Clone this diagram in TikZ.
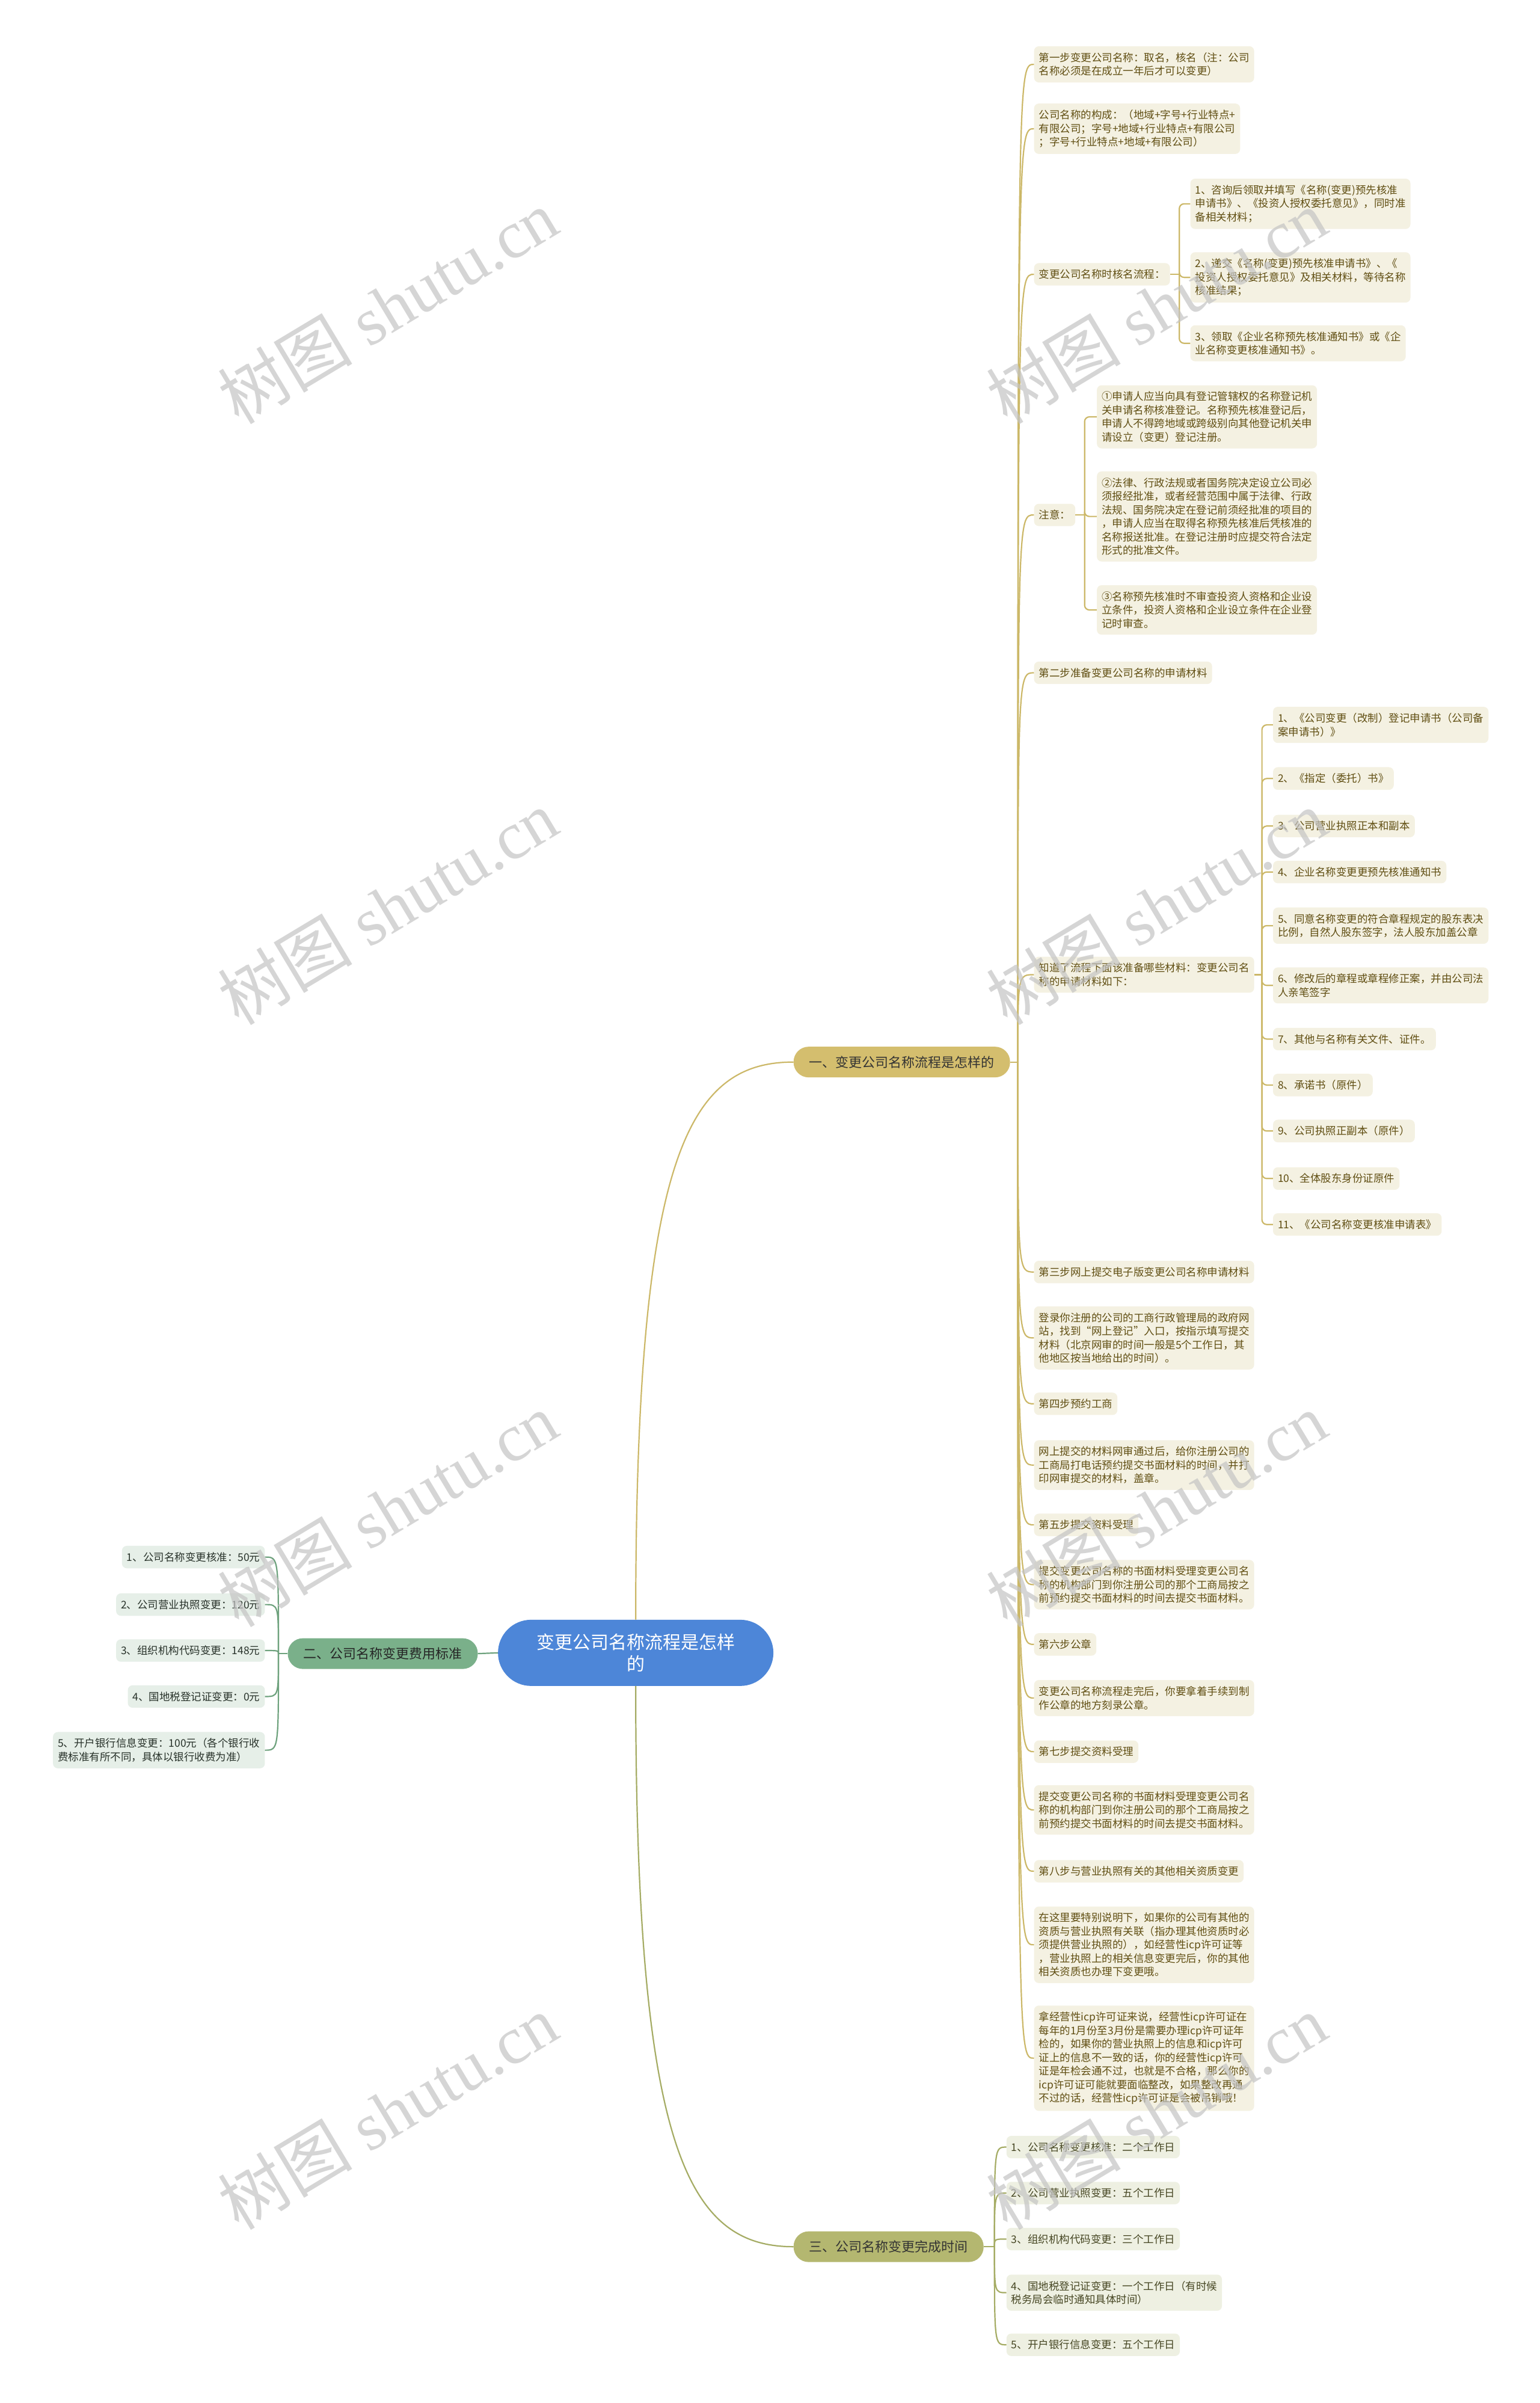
\documentclass[tikz,border=0pt]{standalone}
\usepackage{fontspec}
\setmainfont{Noto Sans CJK SC}
\newfontfamily\wmlatin{Liberation Serif}
\usetikzlibrary{calc}
\definecolor{rootc}{RGB}{77,134,216}
\definecolor{goldc}{RGB}{212,190,110}
\definecolor{goldline}{RGB}{204,184,104}
\definecolor{goldleaf}{RGB}{244,241,226}
\definecolor{goldtext}{RGB}{96,78,18}
\definecolor{greenc}{RGB}{122,176,138}
\definecolor{greenline}{RGB}{110,162,125}
\definecolor{greenleaf}{RGB}{230,239,232}
\definecolor{greentext}{RGB}{40,50,42}
\definecolor{olivec}{RGB}{180,183,112}
\definecolor{oliveline}{RGB}{165,172,100}
\definecolor{oliveleaf}{RGB}{238,240,226}
\definecolor{olivetext}{RGB}{70,70,35}
\definecolor{wmgray}{RGB}{196,196,196}
\tikzset{
  leafbox/.style={rounded corners=8pt, inner xsep=8pt, inner ysep=10.5pt, align=left,
    font=\fontsize{17.5}{22.5}\selectfont},
  aleaf/.style={leafbox, fill=goldleaf, text=goldtext, anchor=west},
  bleaf/.style={leafbox, fill=greenleaf, text=greentext, anchor=east},
  cleaf/.style={leafbox, fill=oliveleaf, text=olivetext, anchor=west},
  mainbox/.style={rounded corners=25pt, minimum height=51pt, inner xsep=26pt,
    font=\fontsize{22}{26}\selectfont},
  rootbox/.style={rounded corners=55pt, minimum width=458pt, minimum height=110pt,
    fill=rootc, text=white, align=center, font=\fontsize{30}{36}\selectfont},
  aline/.style={draw=goldline, line width=2.2pt},
  bline/.style={draw=greenline, line width=2.2pt},
  cline/.style={draw=oliveline, line width=2.2pt},
  wmark/.style={text=wmgray, opacity=0.7, rotate=31, font=\fontsize{112}{112}\selectfont}
}
\begin{document}
\begin{tikzpicture}[x=2.5473pt, y=-2.5478pt]
\useasboundingbox (0,0) rectangle (1005,1568);
\fill[white] (0,0) rectangle (1005,1568);

% root and main branches
\node[rootbox] (root) at (415,1078.5) {变更公司名称流程是怎样\\的};
\node[mainbox, fill=goldc, text=black!80, anchor=west] (A) at (518,693) {一、变更公司名称流程是怎样的};
\node[mainbox, fill=greenc, text=black!85, anchor=east] (B) at (312,1079) {二、公司名称变更费用标准};
\node[mainbox, fill=olivec, text=black!80, anchor=west] (C) at (518,1466) {三、公司名称变更完成时间};

\draw[aline] (root.north) .. controls ($(root.north)+(0,-300)$) and ($(A.west)+(-70,0)$) .. (A.west);
\draw[cline] (root.south) .. controls ($(root.south)+(0,300)$) and ($(C.west)+(-70,0)$) .. (C.west);
\draw[bline] (root.west) -- (B.east);

% branch A children
\node[aleaf] (a1) at (675,42) {第一步变更公司名称：取名，核名（注：公司\\名称必须是在成立一年后才可以变更）};
\node[aleaf] (a2) at (675,84) {公司名称的构成：（地域+字号+行业特点+\\有限公司；字号+地域+行业特点+有限公司\\；字号+行业特点+地域+有限公司）};
\node[aleaf] (a3) at (675,179) {变更公司名称时核名流程：};
\node[aleaf] (a4) at (675,336) {注意：};
\node[aleaf] (a5) at (675,439) {第二步准备变更公司名称的申请材料};
\node[aleaf] (a6) at (675,636) {知道了流程下面该准备哪些材料：变更公司名\\称的申请材料如下：};
\node[aleaf] (a7) at (675,830) {第三步网上提交电子版变更公司名称申请材料};
\node[aleaf] (a8) at (675,873) {登录你注册的公司的工商行政管理局的政府网\\站，找到“网上登记”入口，按指示填写提交\\材料（北京网审的时间一般是5个工作日，其\\他地区按当地给出的时间）。};
\node[aleaf] (a9) at (675,916) {第四步预约工商};
\node[aleaf] (a10) at (675,956) {网上提交的材料网审通过后，给你注册公司的\\工商局打电话预约提交书面材料的时间，并打\\印网审提交的材料，盖章。};
\node[aleaf] (a11) at (675,995) {第五步提交资料受理};
\node[aleaf] (a12) at (675,1034) {提交变更公司名称的书面材料受理变更公司名\\称的机构部门到你注册公司的那个工商局按之\\前预约提交书面材料的时间去提交书面材料。};
\node[aleaf] (a13) at (675,1073) {第六步公章};
\node[aleaf] (a14) at (675,1108) {变更公司名称流程走完后，你要拿着手续到制\\作公章的地方刻录公章。};
\node[aleaf] (a15) at (675,1143) {第七步提交资料受理};
\node[aleaf] (a16) at (675,1181) {提交变更公司名称的书面材料受理变更公司名\\称的机构部门到你注册公司的那个工商局按之\\前预约提交书面材料的时间去提交书面材料。};
\node[aleaf] (a17) at (675,1221) {第八步与营业执照有关的其他相关资质变更};
\node[aleaf] (a18) at (675,1269) {在这里要特别说明下，如果你的公司有其他的\\资质与营业执照有关联（指办理其他资质时必\\须提供营业执照的），如经营性icp许可证等\\，营业执照上的相关信息变更完后，你的其他\\相关资质也办理下变更哦。};
\node[aleaf] (a19) at (675,1343) {拿经营性icp许可证来说，经营性icp许可证在\\每年的1月份至3月份是需要办理icp许可证年\\检的，如果你的营业执照上的信息和icp许可\\证上的信息不一致的话，你的经营性icp许可\\证是年检会通不过，也就是不合格，那么你的\\icp许可证可能就要面临整改，如果整改再通\\不过的话，经营性icp许可证是会被吊销哦！};

\coordinate (at) at ($(A.east)+(5,0)$);
\draw[aline] (A.east) -- (at);
\foreach \n in {a1,a2,a3,a4,a5,a6,a7,a8,a9,a10,a11,a12,a13,a14,a15,a16,a17,a18,a19}{
  \draw[aline] (at) .. controls (at |- \n.west) .. (\n.west);
}

% a3 children
\node[aleaf] (a3c1) at (777,133) {1、咨询后领取并填写《名称(变更)预先核准\\申请书》、《投资人授权委托意见》，同时准\\备相关材料；};
\node[aleaf] (a3c2) at (777,181) {2、递交《名称(变更)预先核准申请书》、《\\投资人授权委托意见》及相关材料，等待名称\\核准结果；};
\node[aleaf] (a3c3) at (777,224) {3、领取《企业名称预先核准通知书》或《企\\业名称变更核准通知书》。};
\coordinate (a3t) at ($(a3.east)+(6,0)$);
\draw[aline] (a3.east) -- (a3t);
\foreach \n in {a3c1,a3c2,a3c3}{
  \draw[aline, rounded corners=8pt] (a3t) |- (\n.west);
}

% a4 children
\node[aleaf] (a4c1) at (716,272) {①申请人应当向具有登记管辖权的名称登记机\\关申请名称核准登记。名称预先核准登记后，\\申请人不得跨地域或跨级别向其他登记机关申\\请设立（变更）登记注册。};
\node[aleaf] (a4c2) at (716,337) {②法律、行政法规或者国务院决定设立公司必\\须报经批准，或者经营范围中属于法律、行政\\法规、国务院决定在登记前须经批准的项目的\\，申请人应当在取得名称预先核准后凭核准的\\名称报送批准。在登记注册时应提交符合法定\\形式的批准文件。};
\node[aleaf] (a4c3) at (716,398) {③名称预先核准时不审查投资人资格和企业设\\立条件，投资人资格和企业设立条件在企业登\\记时审查。};
\coordinate (a4t) at ($(a4.east)+(6,0)$);
\draw[aline] (a4.east) -- (a4t);
\foreach \n in {a4c1,a4c2,a4c3}{
  \draw[aline, rounded corners=8pt] (a4t) |- (\n.west);
}

% a6 children
\node[aleaf] (m1) at (831,473) {1、《公司变更（改制）登记申请书（公司备\\案申请书）》};
\node[aleaf] (m2) at (831,508) {2、《指定（委托）书》};
\node[aleaf] (m3) at (831,539) {3、公司营业执照正本和副本};
\node[aleaf] (m4) at (831,569) {4、企业名称变更更预先核准通知书};
\node[aleaf] (m5) at (831,604) {5、同意名称变更的符合章程规定的股东表决\\比例，自然人股东签字，法人股东加盖公章};
\node[aleaf] (m6) at (831,643) {6、修改后的章程或章程修正案，并由公司法\\人亲笔签字};
\node[aleaf] (m7) at (831,678) {7、其他与名称有关文件、证件。};
\node[aleaf] (m8) at (831,708) {8、承诺书（原件）};
\node[aleaf] (m9) at (831,738) {9、公司执照正副本（原件）};
\node[aleaf] (m10) at (831,769) {10、全体股东身份证原件};
\node[aleaf] (m11) at (831,799) {11、《公司名称变更核准申请表》};
\coordinate (a6t) at ($(a6.east)+(5,0)$);
\draw[aline] (a6.east) -- (a6t);
\foreach \n in {m1,m2,m3,m4,m5,m6,m7,m8,m9,m10,m11}{
  \draw[aline, rounded corners=8pt] (a6t) |- (\n.west);
}

% branch B children
\node[bleaf] (b1) at (173,1016) {1、公司名称变更核准：50元};
\node[bleaf] (b2) at (173,1047) {2、公司营业执照变更：120元};
\node[bleaf] (b3) at (173,1077) {3、组织机构代码变更：148元};
\node[bleaf] (b4) at (173,1107) {4、国地税登记证变更：0元};
\node[bleaf] (b5) at (173,1142) {5、开户银行信息变更：100元（各个银行收\\费标准有所不同，具体以银行收费为准）};
\coordinate (bt) at ($(B.west)+(-6,0)$);
\draw[bline] (B.west) -- (bt);
\foreach \n in {b1,b2,b3,b4,b5}{
  \draw[bline] (bt) .. controls (bt |- \n.east) .. (\n.east);
}

% branch C children
\node[cleaf] (c1) at (657,1401) {1、公司名称变更核准：二个工作日};
\node[cleaf] (c2) at (657,1431) {2、公司营业执照变更：五个工作日};
\node[cleaf] (c3) at (657,1461) {3、组织机构代码变更：三个工作日};
\node[cleaf] (c4) at (657,1496) {4、国地税登记证变更：一个工作日（有时候\\税务局会临时通知具体时间）};
\node[cleaf] (c5) at (657,1530) {5、开户银行信息变更：五个工作日};
\coordinate (ct) at ($(C.east)+(7,0)$);
\draw[cline] (C.east) -- (ct);
\foreach \n in {c1,c2,c3,c4,c5}{
  \draw[cline] (ct) .. controls (ct |- \n.west) .. (\n.west);
}

% watermarks
\foreach \wx/\wy [count=\i] in {253/200,755/200,253/592,755/592,253/985,755/985,253/1378,755/1378}{
  \node[wmark] (wm\i) at (\wx,\wy) {树图{\wmlatin\ shutu.cn}};
}
\end{tikzpicture}
\end{document}
